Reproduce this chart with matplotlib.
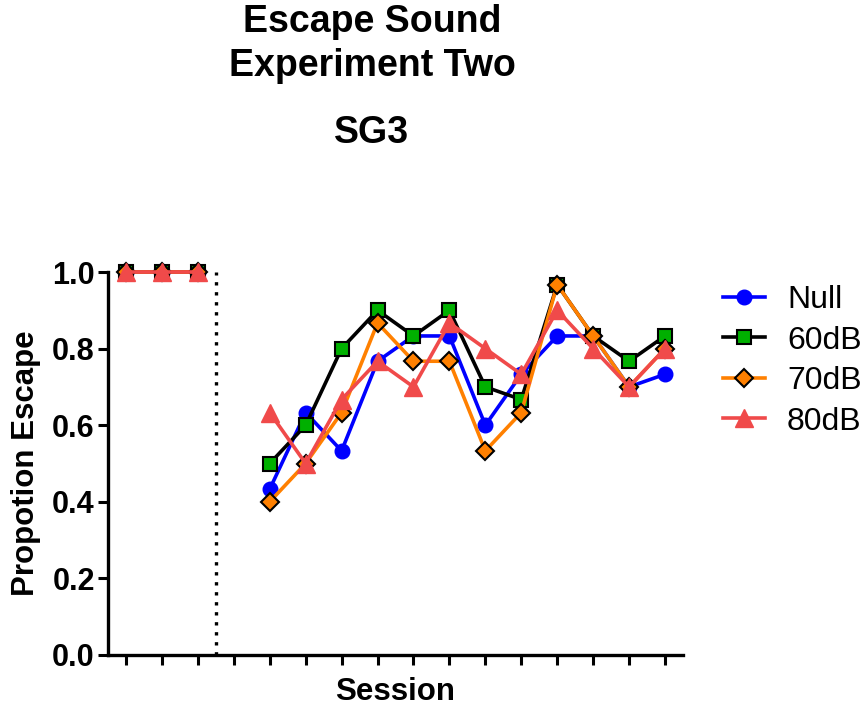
import numpy as np
import matplotlib
matplotlib.use("Agg")
import matplotlib.pyplot as plt

plt.rcParams['font.family'] = ['Liberation Sans', 'DejaVu Sans']

sessions = list(range(1, 17))
null_vals = [1.0, 1.0, 1.0, np.nan, 0.433, 0.633, 0.533, 0.767, 0.833, 0.833, 0.6, 0.733, 0.833, 0.833, 0.7, 0.733]
db60_vals = [1.0, 1.0, 1.0, np.nan, 0.5, 0.6, 0.8, 0.9, 0.833, 0.9, 0.7, 0.667, 0.967, 0.833, 0.767, 0.833]
db70_vals = [1.0, 1.0, 1.0, np.nan, 0.4, 0.5, 0.633, 0.867, 0.767, 0.767, 0.533, 0.633, 0.967, 0.833, 0.7, 0.8]
db80_vals = [1.0, 1.0, 1.0, np.nan, 0.633, 0.5, 0.667, 0.767, 0.7, 0.867, 0.8, 0.733, 0.9, 0.8, 0.7, 0.8]
labels = ['Null', '60dB', '70dB', '80dB']
yticks = [0.0, 0.2, 0.4, 0.6, 0.8, 1.0]
baseline_end = 3.5

W, H = 863, 708
fig = plt.figure(figsize=(W / 100, H / 100), dpi=100)
ax = fig.add_axes([108 / W, 1 - 655 / H, (683 - 108) / W, (655 - 272) / H])

lw = 2.6
ax.plot(sessions, null_vals, color='#0000FF', lw=lw, marker='o', ms=10.5,
        mfc='#0000FF', mec='#0000FF', label=labels[0], clip_on=False, zorder=3)
ax.plot(sessions, db60_vals, color='black', lw=lw, marker='s', ms=10.5,
        mfc='#00B000', mec='black', mew=1.5, label=labels[1], clip_on=False, zorder=4)
ax.plot(sessions, db70_vals, color='#FF8000', lw=lw, marker='D', ms=9.5,
        mfc='#FF8000', mec='black', mew=1.5, label=labels[2], clip_on=False, zorder=5)
ax.plot(sessions, db80_vals, color='#F04A4A', lw=lw, marker='^', ms=12.5,
        mfc='#F04A4A', mec='#F04A4A', label=labels[3], clip_on=False, zorder=6)

ax.axvline(baseline_end, ymin=0, ymax=1, color='black', lw=2.4, ls=(0, (1, 2)), zorder=2)

ax.set_xlim(0.5, 16.5)
ax.set_ylim(0, 1.0)
ax.set_xticks(sessions)
ax.set_xticklabels([])
ax.set_yticks(yticks)
ax.set_yticklabels([f"{v:.1f}" for v in yticks], fontsize=22, fontweight='bold')
for s in ['top', 'right']:
    ax.spines[s].set_visible(False)
for s in ['left', 'bottom']:
    ax.spines[s].set_linewidth(2.4)
ax.tick_params(axis='both', length=7.5, width=2.2, direction='out', pad=2)

ax.set_xlabel('Session', fontsize=22.5, fontweight='bold', labelpad=6)
ax.set_ylabel('Propotion Escape', fontsize=22.5, fontweight='bold', labelpad=8)

fig.text(372 / W, 1 - 22 / H, 'Escape Sound', ha='center', va='center', fontsize=27, fontweight='bold')
fig.text(372 / W, 1 - 66 / H, 'Experiment Two', ha='center', va='center', fontsize=27, fontweight='bold')
fig.text(372 / W, 1 - 133 / H, 'SG3', ha='center', va='center', fontsize=27, fontweight='bold')

leg = ax.legend(loc='upper left', bbox_to_anchor=(723 / W, 1 - 285 / H),
                bbox_transform=fig.transFigure, frameon=False, fontsize=23,
                handlelength=1.3, handletextpad=0.7, labelspacing=0.33, borderpad=0,
                borderaxespad=0)

fig.savefig('out.png', dpi=100)
